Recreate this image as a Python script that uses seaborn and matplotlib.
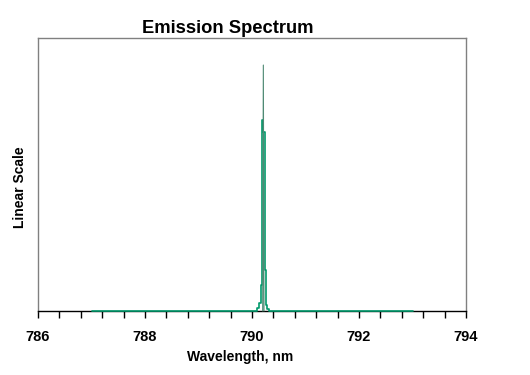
import numpy as np
import pandas as pd
import matplotlib
matplotlib.use("Agg")
import matplotlib.pyplot as plt
import seaborn as sns

# measured spectrum (stepped), wavelength in nm, intensity normalised to reference line
wavelength = [787.0, 790.088, 790.137, 790.163, 790.181, 790.198, 790.212, 790.237, 790.262, 790.287, 790.325, 793.0]
intensity = [0.0, 0.012, 0.033, 0.106, 0.776, 0.745, 0.728, 0.167, 0.024, 0.008, 0.0, 0.0]

# reference line
ref_wavelength = [790.200, 790.212, 790.224]
ref_intensity = [0.0, 1.0, 0.0]

major_ticks = [786, 788, 790, 792, 794]

sns.set_style("white")
plt.rcParams['font.family'] = ['Liberation Sans', 'DejaVu Sans']
plt.rcParams['text.color'] = 'black'
plt.rcParams['xtick.color'] = 'black'
plt.rcParams['xtick.labelcolor'] = 'black'

df = pd.DataFrame({"wl": wavelength, "val": intensity})
ref = pd.DataFrame({"wl": ref_wavelength, "val": ref_intensity})

fig = plt.figure(figsize=(5.3, 3.75), dpi=100)
ax = fig.add_axes([38 / 530, (375 - 311) / 375, 428 / 530, 273 / 375])

green = "#00996B"
sns.lineplot(data=df, x="wl", y="val", ax=ax, color=green, lw=1.2,
             drawstyle="steps-post", clip_on=False, zorder=3)
sns.lineplot(data=ref, x="wl", y="val", ax=ax, color="#4f8a74", lw=0.8,
             clip_on=False, zorder=4)

ax.set_xlim(786, 794)
ax.set_ylim(0, 1.11)
ax.set_xticks(major_ticks)
ax.set_xticks(np.arange(786, 794.01, 0.4), minor=True)
ax.set_yticks([])
ax.set_xlabel("")
ax.set_ylabel("")
ax.tick_params(axis="x", which="both", direction="out", length=5, width=1,
               color="black", labelcolor="black", bottom=True, pad=9)
for lab in ax.get_xticklabels():
    lab.set_fontweight("bold")
    lab.set_fontsize(10.5)

for side in ["left", "top", "right"]:
    ax.spines[side].set_color("#808080")
    ax.spines[side].set_linewidth(1)
ax.spines["bottom"].set_color("black")
ax.spines["bottom"].set_linewidth(1)

fig.text(228 / 530, (375 - 33) / 375, "Emission Spectrum", ha="center", va="baseline",
         fontsize=13.2, fontweight="bold", color="black")
fig.text(240 / 530, (375 - 357) / 375, "Wavelength, nm", ha="center", va="center",
         fontsize=10, fontweight="bold", color="black")
fig.text(20 / 530, (375 - 187) / 375, "Linear Scale", ha="center", va="center",
         rotation=90, fontsize=10, fontweight="bold", color="black")

fig.savefig("out.png", dpi=100)
